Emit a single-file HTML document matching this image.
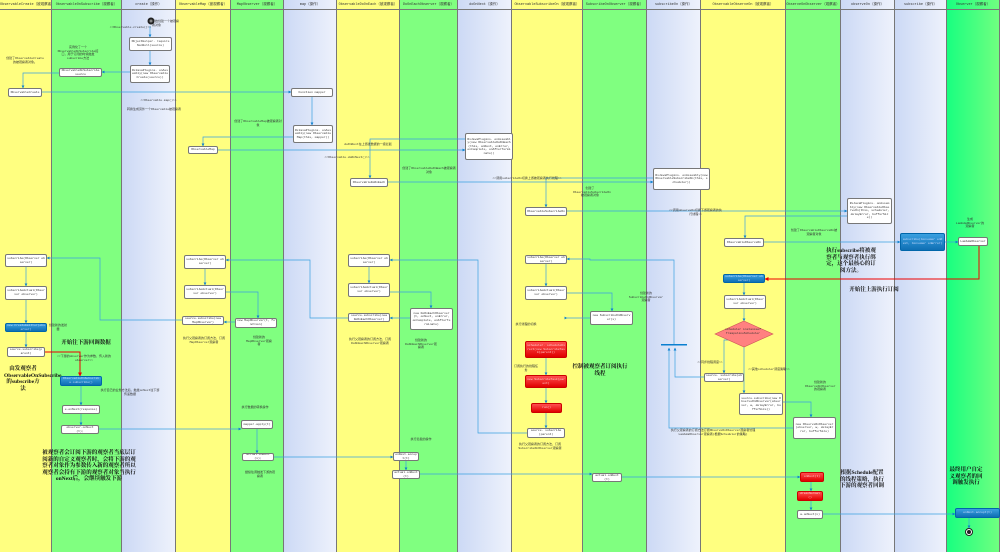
<!DOCTYPE html>
<html><head><meta charset="utf-8"><style>
*{margin:0;padding:0;box-sizing:border-box}
body{width:1000px;height:552px;position:relative;overflow:hidden;background:#fff;font-family:"Liberation Mono","Noto Sans CJK SC",monospace}
.l{position:absolute;top:0;height:552px;border-right:1px solid #777}
.Y{background:#ffff80}.G{background:#80ff80}.B{background:linear-gradient(90deg,#ccd9f5,#eef2fc)}.BG{background:linear-gradient(90deg,#19ff80,#70ff80)}
.h{position:absolute;top:0;left:0;right:0;height:10px;border-bottom:1px solid #777;font-size:3.5px;line-height:10px;text-align:center;color:#333;white-space:nowrap;overflow:hidden}
.n{position:absolute;background:#fff;border:0.8px solid #777;border-radius:2px;font-size:3px;line-height:3.6px;text-align:center;display:flex;align-items:center;justify-content:center;color:#333;overflow:hidden;word-break:break-all;padding:0 1px}
.bl{background:linear-gradient(#3aa0e0,#0f6fb4);color:#cdf;border-color:#06a}
.rd{background:linear-gradient(#ff5050,#e00000);color:#fcc;border-color:#c00}
.t{position:absolute;font-size:3px;line-height:3.6px;color:#333;text-align:center}
.bt{position:absolute;font-family:"Liberation Serif","Noto Serif CJK SC",serif;font-weight:bold;color:#111;text-align:center;font-size:5.5px;line-height:6.5px}
svg{position:absolute;left:0;top:0}
</style></head><body>
<div class="l Y" style="left:0;width:52px"><div class="h">ObservableCreate（被观察者）</div></div>
<div class="l G" style="left:52px;width:70px"><div class="h">ObservableOnSubscribe（观察者）</div></div>
<div class="l B" style="left:122px;width:54px"><div class="h">create（操作）</div></div>
<div class="l Y" style="left:176px;width:55px"><div class="h">ObservableMap（被观察者）</div></div>
<div class="l G" style="left:231px;width:53px"><div class="h">MapObserver（观察者）</div></div>
<div class="l B" style="left:284px;width:53px"><div class="h">map（操作）</div></div>
<div class="l Y" style="left:337px;width:63px"><div class="h">ObservableDoOnEach（被观察者）</div></div>
<div class="l G" style="left:400px;width:58px"><div class="h">DoOnEachObserver（观察者）</div></div>
<div class="l B" style="left:458px;width:54px"><div class="h">doOnNext（操作）</div></div>
<div class="l Y" style="left:512px;width:71px"><div class="h">ObservableSubscribeOn（被观察者）</div></div>
<div class="l G" style="left:583px;width:64px"><div class="h">SubscribeOnObserver（观察者）</div></div>
<div class="l B" style="left:647px;width:54px"><div class="h">subscribeOn（操作）</div></div>
<div class="l Y" style="left:701px;width:85px"><div class="h">ObservableObserveOn（被观察者）</div></div>
<div class="l G" style="left:786px;width:55px"><div class="h">ObserveOnObserver（观察者）</div></div>
<div class="l B" style="left:841px;width:54px"><div class="h">observeOn（操作）</div></div>
<div class="l B" style="left:895px;width:52px"><div class="h">subscribe（操作）</div></div>
<div class="l BG" style="left:947px;width:53px"><div class="h">Observer（观察者）</div></div>

<svg width="1000" height="552" viewBox="0 0 1000 552">
<defs><marker id="a" markerWidth="4" markerHeight="4" refX="3.5" refY="2" orient="auto"><path d="M0,0L4,2L0,4z" fill="#0a7fd0"/></marker>
<marker id="r" markerWidth="4" markerHeight="4" refX="3.5" refY="2" orient="auto"><path d="M0,0L4,2L0,4z" fill="#e00"/></marker></defs>
<g fill="none" stroke="#3aa0e0" stroke-width="0.7" marker-end="url(#a)">
<path d="M150,26V37"/><path d="M150,51V65"/><path d="M130,72H102"/><path d="M59,73H23V88"/>
<path d="M42,92H291"/><path d="M312,97V125"/><path d="M293,137H203V146"/><path d="M218,150H465"/>
<path d="M465,139H370V178"/><path d="M388,182H653"/><path d="M653,178H546V207"/><path d="M567,211H847"/>
<path d="M847,216H745V238"/><path d="M764,242H900"/><path d="M945,242H958"/>
<path d="M744,283V295"/><path d="M744,309V321"/><path d="M744,347V393"/><path d="M730,340H724V373"/>
<path d="M761,402H811V417"/><path d="M793,428H669V348"/><path d="M704,377H675V348"/>
<path d="M674,345V260H590V259H567"/><path d="M546,264V286"/><path d="M567,293H612V311"/>
<path d="M590,318H567V318"/><path d="M546,358V375"/><path d="M546,388V403"/><path d="M546,413V428"/>
<path d="M527,433H478V260H390"/><path d="M369,267V283"/><path d="M390,292H431V308"/><path d="M410,318H390"/>
<path d="M348,318H310V260H226"/><path d="M205,269V285"/><path d="M226,292H258V318"/><path d="M235,322H224"/>
<path d="M182,320H100V258H47"/><path d="M26,267V286"/><path d="M26,300V323"/><path d="M26,332V347"/>
<path d="M81,386V405"/><path d="M81,414V425"/><path d="M99,429H241"/><path d="M257,429V453"/>
<path d="M274,457H393"/><path d="M406,461V470"/><path d="M420,474H592"/><path d="M622,477H800"/>
<path d="M811,482V491"/><path d="M811,501V510"/><path d="M823,514H955"/><path d="M969,518V528"/>
</g>
<path d="M45,352H80V376" fill="none" stroke="#e00" stroke-width="1" marker-end="url(#r)"/>
<path d="M979,246V279H765" fill="none" stroke="#e00" stroke-width="1" marker-end="url(#r)"/>
<rect x="661" y="344" width="26" height="1.5" fill="#0a7fd0"/>
<polygon points="744,321 773,334 744,347 715,334" fill="#ff8080" stroke="#c55" stroke-width="0.6"/>
<circle cx="151" cy="21" r="3.5" fill="#222"/><circle cx="151" cy="21" r="1.5" fill="#888"/>
<circle cx="969" cy="532" r="3.5" fill="#fff" stroke="#222"/><circle cx="969" cy="532" r="2" fill="#222"/>
</svg>
<div class="t" style="left:743px;top:328px;width:0;overflow:visible"><span style="position:absolute;left:-20px;width:40px">scheduler instanceof TrampolineScheduler</span></div>

<div class="n" style="left:129px;top:37px;width:43px;height:14px">ObjectHelper. requireNonNull(source)</div>
<div class="n" style="left:130px;top:65px;width:40px;height:18px">RxJavaPlugins. onAssembly(new ObservableCreate(source))</div>
<div class="n" style="left:59px;top:68px;width:43px;height:9px">ObservableOnSubscribe source</div>
<div class="n" style="left:8px;top:88px;width:34px;height:9px">ObservableCreate</div>
<div class="n" style="left:291px;top:88px;width:42px;height:9px">Function mapper</div>
<div class="n" style="left:293px;top:125px;width:40px;height:18px">RxJavaPlugins. onAssembly(new ObservableMap(this, mapper))</div>
<div class="n" style="left:188px;top:146px;width:30px;height:8px">ObservableMap</div>
<div class="n" style="left:465px;top:133px;width:48px;height:27px">RxJavaPlugins. onAssembly(new ObservableDoOnEach(this, onNext, onError, onComplete, onAfterTerminate))</div>
<div class="n" style="left:350px;top:178px;width:38px;height:9px">ObservableDoOnEach</div>
<div class="n" style="left:653px;top:168px;width:57px;height:22px">RxJavaPlugins. onAssembly(new ObservableSubscribeOn(this, scheduler))</div>
<div class="n" style="left:525px;top:207px;width:42px;height:9px">ObservableSubscribeOn</div>
<div class="n" style="left:847px;top:198px;width:45px;height:26px">RxJavaPlugins. onAssembly(new ObservableObserveOn(this, scheduler, delayError, bufferSize))</div>
<div class="n" style="left:724px;top:238px;width:40px;height:9px">ObservableObserveOn</div>
<div class="n bl" style="left:900px;top:233px;width:45px;height:18px">subscribe(Consumer onNext, Consumer onError)</div>
<div class="n" style="left:958px;top:237px;width:30px;height:9px">LambdaObserver</div>
<div class="n bl" style="left:723px;top:274px;width:42px;height:9px">subscribe(Observer observer)</div>
<div class="n" style="left:724px;top:295px;width:42px;height:14px">subscribeActual(Observer observer)</div>
<div class="n" style="left:704px;top:373px;width:40px;height:9px">source. subscribe(observer)</div>
<div class="n" style="left:739px;top:393px;width:44px;height:22px">source.subscribe(new ObserveOnObserver(observer, w, delayError, bufferSize))</div>
<div class="n" style="left:793px;top:417px;width:43px;height:22px">new ObserveOnObserver(observer, w, delayError, bufferSize)</div>
<div class="n rd" style="left:800px;top:472px;width:24px;height:10px">onNext(t)</div>
<div class="n rd" style="left:797px;top:491px;width:26px;height:10px">drainNormal()</div>
<div class="n" style="left:797px;top:510px;width:26px;height:9px">a.onNext(v)</div>
<div class="n bl" style="left:955px;top:508px;width:45px;height:10px">onNext.accept(t)</div>
<div class="n" style="left:525px;top:255px;width:42px;height:9px">subscribe(Observer observer)</div>
<div class="n" style="left:525px;top:286px;width:42px;height:14px">subscribeActual(Observer observer)</div>
<div class="n" style="left:590px;top:311px;width:43px;height:14px">new SubscribeOnObserver(s)</div>
<div class="n rd" style="left:525px;top:341px;width:42px;height:17px">scheduler. scheduleDirect(new SubscribeTask(parent))</div>
<div class="n rd" style="left:525px;top:375px;width:42px;height:13px">new SubscribeTask(parent)</div>
<div class="n rd" style="left:531px;top:403px;width:31px;height:10px">run()</div>
<div class="n" style="left:527px;top:428px;width:38px;height:10px">source. subscribe(parent)</div>
<div class="n" style="left:348px;top:254px;width:42px;height:13px">subscribe(Observer observer)</div>
<div class="n" style="left:348px;top:283px;width:42px;height:14px">subscribeActual(Observer observer)</div>
<div class="n" style="left:348px;top:313px;width:42px;height:9px">source.subscribe(new DoOnEachObserver)</div>
<div class="n" style="left:410px;top:308px;width:43px;height:22px">new DoOnEachObserver(t, onNext, onError, onComplete, onAfterTerminate)</div>
<div class="n" style="left:393px;top:452px;width:26px;height:9px">onNext.accept(t)</div>
<div class="n" style="left:392px;top:470px;width:28px;height:9px">actual.onNext(t)</div>
<div class="n" style="left:592px;top:473px;width:30px;height:9px">actual.onNext(t)</div>
<div class="n" style="left:184px;top:255px;width:42px;height:14px">subscribe(Observer observer)</div>
<div class="n" style="left:184px;top:285px;width:42px;height:14px">subscribeActual(Observer observer)</div>
<div class="n" style="left:182px;top:316px;width:42px;height:9px">source.subscribe(new MapObserver)</div>
<div class="n" style="left:235px;top:318px;width:42px;height:10px">new MapObserver(t, function)</div>
<div class="n" style="left:241px;top:420px;width:32px;height:9px">mapper.apply(t)</div>
<div class="n" style="left:242px;top:453px;width:32px;height:8px">actual.onNext(v);</div>
<div class="n" style="left:5px;top:254px;width:42px;height:13px">subscribe(Observer observer)</div>
<div class="n" style="left:5px;top:286px;width:42px;height:14px">subscribeActual(Observer observer)</div>
<div class="n bl" style="left:5px;top:323px;width:42px;height:9px">new CreateEmitter(observer)</div>
<div class="n" style="left:7px;top:347px;width:38px;height:10px">source.subscribe(parent)</div>
<div class="n bl" style="left:60px;top:376px;width:42px;height:10px">ObservableOnSubscribe.subscribe()</div>
<div class="n" style="left:62px;top:405px;width:38px;height:9px">e.onNext(response)</div>
<div class="n" style="left:61px;top:425px;width:38px;height:9px">observer.onNext(t);</div>

<div class="t" style="left:152px;top:20px;width:28px;text-align:left">开始创建一个被观察者对象</div>
<div class="t" style="left:108px;top:26px;width:45px">&lt;&lt;Observable.create()&gt;&gt;</div>
<div class="t" style="left:56px;top:46px;width:44px">实例化了一个ObservableOnSubscribe接口，用于订阅的时候触发subscribe方法</div>
<div class="t" style="left:6px;top:57px;width:38px">创建了ObservableCreate的被观察者对象。</div>
<div class="t" style="left:136px;top:99px;width:45px">&lt;&lt;Observable.map()&gt;&gt;</div>
<div class="t" style="left:127px;top:108px;width:54px">转换生成另外一个Observable被观察者</div>
<div class="t" style="left:233px;top:120px;width:50px">创建了ObservableMap被观察者对象</div>
<div class="t" style="left:338px;top:143px;width:60px">doOnNext在上游发数据的一级拦截</div>
<div class="t" style="left:322px;top:156px;width:50px">&lt;&lt;Observable.doOnNext()&gt;&gt;</div>
<div class="t" style="left:402px;top:167px;width:54px">创建了ObservableDoOnEach被观察者对象</div>
<div class="t" style="left:472px;top:177px;width:110px">&lt;&lt;调用subscribeOn切换上游被观察者执行线程&gt;&gt;</div>
<div class="t" style="left:573px;top:187px;width:34px">创建了ObservableSubscribeOn被观察者对象</div>
<div class="t" style="left:668px;top:209px;width:55px">&lt;&lt;调用observeOn切换下游观察者的执行线程&gt;&gt;</div>
<div class="t" style="left:790px;top:229px;width:48px">创建了ObservableObserveOn被观察者对象</div>
<div class="t" style="left:955px;top:218px;width:30px">生成LambdaObserver的观察者</div>
<div class="t" style="left:48px;top:324px;width:20px">创建新的发射器</div>
<div class="t" style="left:54px;top:355px;width:60px">&lt;&lt;下游的observer作为参数，传入新的observer&gt;&gt;</div>
<div class="t" style="left:100px;top:389px;width:60px">执行自己的业务方法后，触发onNext往下游传递数据</div>
<div class="t" style="left:176px;top:337px;width:56px">执行父观察者的订阅方法，订阅MapObserver观察者</div>
<div class="t" style="left:245px;top:336px;width:28px">创建新的MapObserver观察者</div>
<div class="t" style="left:240px;top:406px;width:30px">执行数据的转换操作</div>
<div class="t" style="left:245px;top:471px;width:30px">继续往调触发下游的观察者</div>
<div class="t" style="left:340px;top:338px;width:60px">执行父观察者的订阅方法，订阅DoOnEachObserver观察者</div>
<div class="t" style="left:404px;top:339px;width:34px">创建新的DoOnEachObserver观察者</div>
<div class="t" style="left:403px;top:438px;width:36px">执行拦截的操作</div>
<div class="t" style="left:513px;top:323px;width:26px">执行线程的切换</div>
<div class="t" style="left:513px;top:365px;width:26px">订阅执行的线程任务</div>
<div class="t" style="left:510px;top:443px;width:60px">执行父观察者的订阅方法，订阅SubscribeOnObserver观察者</div>
<div class="t" style="left:628px;top:292px;width:36px">创建新的SubscribeOnObserver观察者</div>
<div class="t" style="left:692px;top:361px;width:36px">&lt;&lt;同步线程调度&gt;&gt;</div>
<div class="t" style="left:745px;top:368px;width:48px">&lt;&lt;其他scheduler调度策略&gt;&gt;</div>
<div class="t" style="left:805px;top:381px;width:30px">创建新的ObserveOnObserver的观察者</div>
<div class="t" style="left:663px;top:429px;width:100px">执行父观察者的订阅方法订阅ObserveOnObserver观察者管理LambdaObserver观察者(根据Scheduler的策略)</div>

<div class="bt" style="left:56px;top:340px;width:60px">开始往下游回调数据</div>
<div class="bt" style="left:844px;top:287px;width:60px">开始往上游执行订阅</div>
<div class="bt" style="left:824px;top:248px;width:54px">执行subscribe将被观察者与观察者执行绑定，这个最核心的订阅方法。</div>
<div class="bt" style="left:572px;top:364px;width:56px">控制被观察者订阅执行线程</div>
<div class="bt" style="left:839px;top:470px;width:46px">根据Schedule配置的线程策略，执行下游的观察者回调</div>
<div class="bt" style="left:949px;top:467px;width:34px">最终用户自定义观察者的回调触发执行</div>
<div class="bt" style="left:4px;top:366px;width:38px">由发观察者ObservableOnSubscribe的subscribe方法</div>
<div class="bt" style="left:40px;top:450px;width:98px">被观察者会订阅下游的观察者当底层订阅新的自定义观察者时，会将下游的观察者对象作为参数传入新的观察者所以观察者会持有下游的观察者对象当执行onNext后，会继续触发下游</div>
</body></html>
